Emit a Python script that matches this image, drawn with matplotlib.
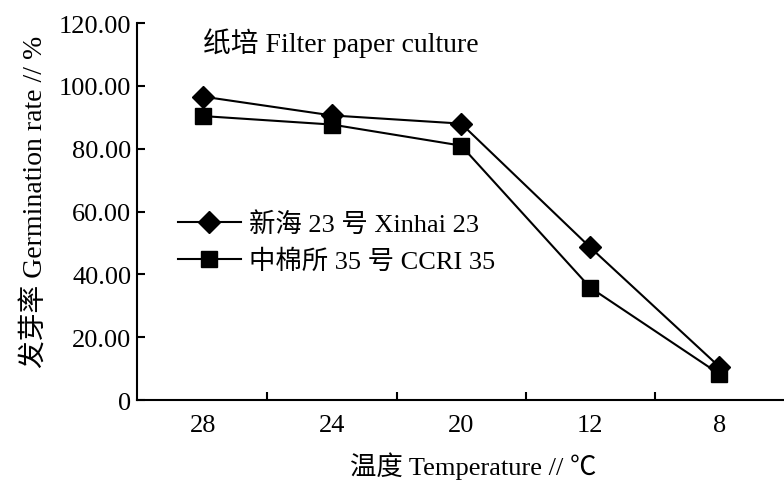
import matplotlib
matplotlib.use('Agg')
import matplotlib.pyplot as plt
import numpy as np

plt.rcParams['font.family'] = ['Liberation Serif', 'Noto Sans CJK SC', 'DejaVu Sans']

temps = ['28', '24', '20', '12', '8']
xinhai = [96.6, 90.6, 88.0, 48.6, 10.6]
ccri = [90.4, 87.7, 81.0, 35.8, 8.3]
yticks = [0, 20, 40, 60, 80, 100, 120]
ytick_labels = ['0', '20.00', '40.00', '60.00', '80.00', '100.00', '120.00']

fig = plt.figure(figsize=(7.84, 4.81), dpi=100)
ax = fig.add_axes([0.1747, 0.166, 0.8253, 0.784])

x = np.arange(len(temps))
ax.plot(x, xinhai, color='black', lw=1.5, marker='D', ms=11.5, label='新海 23 号 Xinhai 23')
ax.plot(x, ccri, color='black', lw=1.5, marker='s', ms=11.5, label='中棉所 35 号 CCRI 35')

ax.set_xlim(-0.51, 4.5)
ax.set_ylim(0, 120)
ax.set_xticks(x)
ax.set_xticklabels(temps)
ax.set_xticks(x[:-1] + 0.5, minor=True)
ax.tick_params(axis='x', which='major', length=0, pad=10, labelsize=19)
ax.tick_params(axis='x', which='minor', length=6, width=1.5, direction='in')
ax.set_yticks(yticks)
ax.set_yticklabels(ytick_labels)
ax.tick_params(axis='y', length=6, width=1.5, direction='in', pad=4, labelsize=19)

for s in ['top', 'right']:
    ax.spines[s].set_visible(False)
for s in ['left', 'bottom']:
    ax.spines[s].set_linewidth(1.5)

ax.set_ylabel('发芽率 Germination rate // %', fontsize=20, va='center')
ax.yaxis.set_label_coords(-0.158, 0.528)
ax.set_xlabel('温度 Temperature // ℃', fontsize=19, va='center')
ax.xaxis.set_label_coords(0.52, -0.173)

ax.text(0.0, 114, '纸培 Filter paper culture', fontsize=20, va='center', ha='left')

ax.legend(loc='center left', bbox_to_anchor=(0.063, 0.419), frameon=False, fontsize=19,
          handlelength=2.4, labelspacing=0.5, borderaxespad=0, borderpad=0, handletextpad=0.3)

fig.savefig('out.png', dpi=100)
